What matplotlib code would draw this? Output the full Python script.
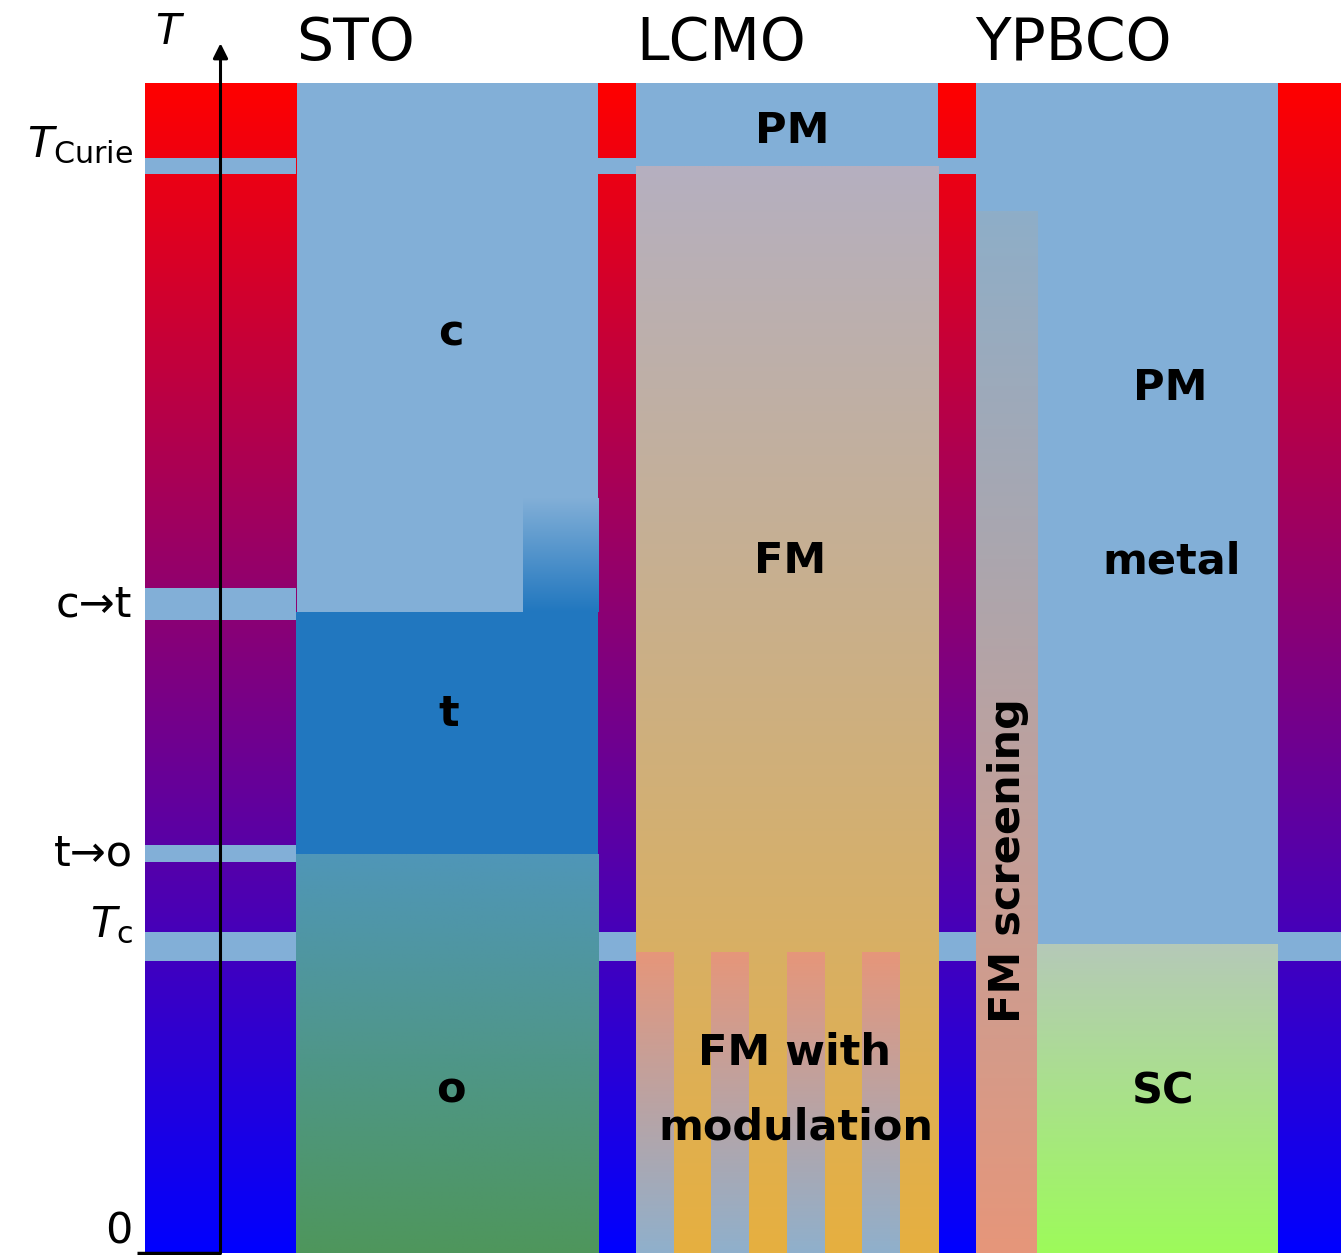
import numpy as np
import matplotlib as mpl
import matplotlib.pyplot as plt
import matplotlib.colors as mcolors

mpl.rcParams['font.family'] = 'DejaVu Sans'
mpl.rcParams['mathtext.fontset'] = 'dejavusans'

# temperature axis (arbitrary units, 0 .. 100)
T_MAX = 100
# transition bands (low, high)
T_CURIE = (92.2, 93.6)
T_CT = (54.1, 56.8)
T_TO = (33.4, 34.9)
T_C = (25.0, 27.4)

tick_values = [0, 26.2, 34.15, 55.45, 92.9]
tick_labels = ['0', r'$T_\mathrm{c}$', 't→o', 'c→t', r'$T_\mathrm{Curie}$']
tick_va = ['bottom', 'bottom', 'center', 'center', 'bottom']

samples = ['STO', 'LCMO', 'YPBCO']

# phase boundaries
sto_c_t = 54.8      # c / t boundary
sto_t_o = 34.1      # t / o boundary
sto_fade_top = 64.5
lcmo_pm_fm = 92.9
lcmo_mod_top = 25.7
ypbco_screen_top = 89.0
ypbco_sc_top = 26.4

# column layout (x units)
grad_cols = [(0, 4), (12, 13), (21, 22), (30, 31.68)]
sample_cols = [(4, 12), (13, 21), (22, 30)]
bands_per_col = [[T_CURIE, T_CT, T_TO, T_C], [T_CURIE, T_C], [T_CURIE, T_C], [T_C]]
stripes = [(13, 14), (15, 16), (17, 18), (19, 20)]

bg = '#82afd7'
t_blue = '#2177bf'


def vgrad(ax, x0, x1, y0, y1, c_bot, c_top, zorder=1):
    a = np.array(mcolors.to_rgb(c_bot))
    b = np.array(mcolors.to_rgb(c_top))
    s = np.linspace(0, 1, 256)[:, None]
    img = a + (b - a) * s
    ax.imshow(img[:, None, :], extent=(x0, x1, y0, y1), origin='lower',
              aspect='auto', interpolation='bilinear', zorder=zorder)


fig = plt.figure(figsize=(13.41, 12.55), dpi=100)
ax = fig.add_axes([145 / 1341, 2 / 1255, 1196 / 1341, 1170 / 1255])
ax.set_facecolor(bg)

# temperature colour columns with transition bands
for (x0, x1), bands in zip(grad_cols, bands_per_col):
    vgrad(ax, x0, x1, 0, T_MAX, '#0000ff', '#ff0000')
    for lo, hi in bands:
        ax.bar(x0, hi - lo, width=x1 - x0, bottom=lo, align='edge',
               color=bg, linewidth=0, zorder=2)

# STO
(sx0, sx1) = sample_cols[0]
ax.bar(sx0, sto_c_t - sto_t_o, width=sx1 - sx0, bottom=sto_t_o, align='edge',
       color=t_blue, linewidth=0, zorder=2)
vgrad(ax, 10, sx1, sto_c_t, sto_fade_top, t_blue, bg, zorder=2)
vgrad(ax, sx0, sx1, 0, sto_t_o, '#4e965c', '#5096b8', zorder=2)

# LCMO
(lx0, lx1) = sample_cols[1]
vgrad(ax, lx0, lx1, 0, lcmo_pm_fm, '#e6b040', '#b5afc0', zorder=2)
for x0, x1 in stripes:
    vgrad(ax, x0, x1, 0, lcmo_mod_top, '#8fb0cc', '#e6967a', zorder=3)

# YPBCO
(yx0, yx1) = sample_cols[2]
vgrad(ax, yx0, 23.63, 0, ypbco_screen_top, '#e6967a', '#8eaec8', zorder=2)
vgrad(ax, 23.63, yx1, 0, ypbco_sc_top, '#9dfb5a', '#b5c9b8', zorder=2)

# phase labels
lab = dict(fontsize=31, fontweight='bold', ha='center', va='baseline', zorder=5)
ax.text(8.1, 77.6, 'c', **lab)
ax.text(8.05, 45.0, 't', **lab)
ax.text(8.1, 12.9, 'o', **lab)
ax.text(17.15, 94.9, 'PM', **lab)
ax.text(17.1, 58.1, 'FM', **lab)
ax.text(17.2, 16.1, 'FM with', **lab)
ax.text(17.25, 9.66, 'modulation', **lab)
ax.text(27.15, 72.9, 'PM', **lab)
ax.text(27.2, 58.1, 'metal', **lab)
ax.text(26.97, 12.8, 'SC', **lab)
ax.text(22.86, 33.5, 'FM screening', rotation=90, fontsize=31,
        fontweight='bold', ha='center', va='center', zorder=5)

# sample headers
for (x0, x1), name in zip(sample_cols, samples):
    ax.text(x0, 102.0, name, fontsize=42, ha='left', va='baseline')
ax.text(0.66, 103.3, r'$T$', fontsize=30, ha='center', va='baseline')

# temperature arrow
ax.annotate('', xy=(2, 103.4), xytext=(2, 0), annotation_clip=False,
            arrowprops=dict(arrowstyle='-|>', lw=2.2, color='k',
                            mutation_scale=22, shrinkA=0, shrinkB=0), zorder=6)
ax.plot([-0.21, 2], [0, 0], color='k', lw=2.5, clip_on=False, zorder=6,
        solid_capstyle='butt')

ax.set_xlim(0, 31.68)
ax.set_ylim(0, T_MAX)
ax.set_xticks([])
ax.set_yticks(tick_values)
ax.set_yticklabels(tick_labels, fontsize=31)
for t, va in zip(ax.get_yticklabels(), tick_va):
    t.set_va(va)
ax.tick_params(axis='y', length=0, pad=9)
for s in ax.spines.values():
    s.set_visible(False)

plt.savefig('out.png', dpi=100, facecolor='white')
